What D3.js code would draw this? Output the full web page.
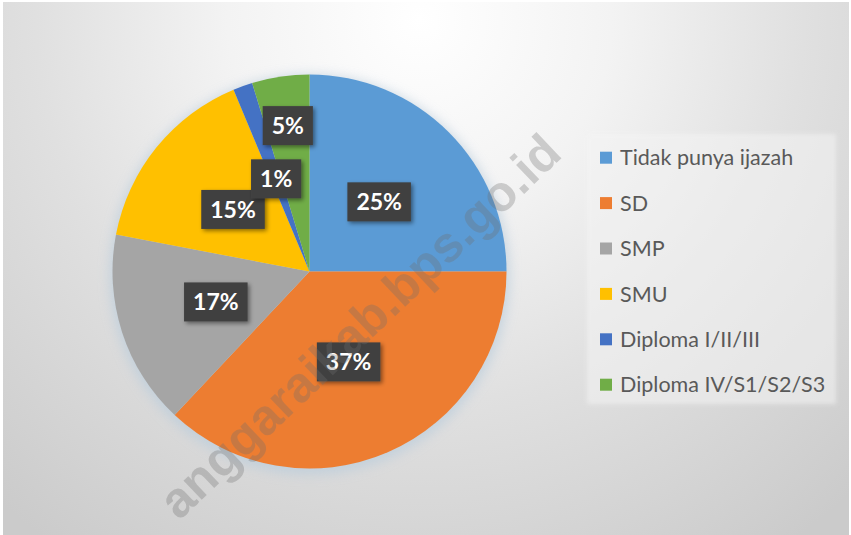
<!DOCTYPE html>
<html>
<head>
<meta charset="utf-8">
<script src="https://cdn.jsdelivr.net/npm/d3@7"></script>
<style>
  html, body { margin: 0; padding: 0; background: #ffffff; }
  svg { display: block; }
</style>
</head>
<body>
<div id="chart"></div>
<script>
// ---- data ----
const categories = ["Tidak punya ijazah", "SD", "SMP", "SMU", "Diploma I/II/III", "Diploma IV/S1/S2/S3"];
const values = [25.0, 37.0, 16.0, 15.7, 1.6, 4.7];
const labels = ["25%", "37%", "17%", "15%", "1%", "5%"];
const colors = ["#5B9BD5", "#ED7D31", "#A5A5A5", "#FFC000", "#4472C4", "#70AD47"];
const watermark = "anggaraikab.bps.go.id";

// ---- layout ----
const W = 851, H = 535;
const cx = 309.5, cy = 271.5, R = 197;

const svg = d3.select("#chart").append("svg")
  .attr("width", W).attr("height", H);

const defs = svg.append("defs");
const bg = defs.append("radialGradient").attr("id", "bg")
  .attr("gradientUnits", "userSpaceOnUse")
  .attr("cx", 420).attr("cy", 20).attr("r", 640);
[[0, "#ffffff"], [0.3, "#f3f3f3"], [0.6, "#e0e0e0"], [1, "#cbcbcb"]].forEach(s =>
  bg.append("stop").attr("offset", s[0]).attr("stop-color", s[1]));

const glow = defs.append("filter").attr("id", "glow")
  .attr("x", "-20%").attr("y", "-20%").attr("width", "140%").attr("height", "140%");
glow.append("feGaussianBlur").attr("stdDeviation", 6);

const shadow = defs.append("filter").attr("id", "shadow")
  .attr("x", "-30%").attr("y", "-30%").attr("width", "160%").attr("height", "160%");
shadow.append("feDropShadow").attr("dx", 2).attr("dy", 2).attr("stdDeviation", 2)
  .attr("flood-color", "#000").attr("flood-opacity", 0.45);

const legGlow = defs.append("filter").attr("id", "legGlow")
  .attr("x", "-10%").attr("y", "-10%").attr("width", "120%").attr("height", "120%");
legGlow.append("feGaussianBlur").attr("stdDeviation", 2);

// background panel
svg.append("rect").attr("x", 3).attr("y", 2).attr("width", W - 5).attr("height", H - 2)
  .attr("fill", "url(#bg)");

// pie glow
svg.append("circle").attr("cx", cx).attr("cy", cy + 3).attr("r", R + 3)
  .attr("fill", "#b9ccdc").attr("opacity", 0.7).attr("filter", "url(#glow)");

const pie = d3.pie().sort(null).value(d => d)(values);
const arc = d3.arc().innerRadius(0).outerRadius(R);

const g = svg.append("g").attr("transform", `translate(${cx},${cy})`);
g.selectAll("path.slice").data(pie).join("path")
  .attr("class", "slice")
  .attr("d", arc)
  .attr("fill", (d, i) => colors[i]);

// labels
const fontLab = "Lato, 'Open Sans', sans-serif";
const lg = g.append("g");
const boxes = [];
pie.forEach((d, i) => {
  const lab = lg.append("g");
  const t = lab.append("text").text(labels[i])
    .attr("font-family", fontLab).attr("font-weight", 700).attr("font-size", 23)
    .attr("fill", "#ffffff").attr("text-anchor", "middle").attr("dy", "0.36em");
  const tw = t.node().getComputedTextLength();
  const bw = tw + 18, bh = 39;
  const mid = (d.startAngle + d.endAngle) / 2;
  let rr = R * 0.5;
  let x = Math.sin(mid) * rr, y = -Math.cos(mid) * rr;
  const conflict = (x, y) => boxes.some(b =>
    Math.abs(b.x - x) < (b.w + bw) / 2 - 12 && Math.abs(b.y - y) < (b.h + bh) / 2 - 12);
  const clear = (x, y) => boxes.every(b =>
    Math.abs(b.x - x) >= (b.w + bw) / 2 + 2 || Math.abs(b.y - y) >= (b.h + bh) / 2 + 14);
  if (conflict(x, y)) {
    while (!clear(x, y) && rr < R * 0.9) {
      rr += 1;
      x = Math.sin(mid) * rr; y = -Math.cos(mid) * rr;
    }
  }
  boxes.push({x, y, w: bw, h: bh});
  lab.attr("transform", `translate(${x},${y})`);
  lab.insert("rect", "text")
    .attr("x", -bw / 2).attr("y", -bh / 2).attr("width", bw).attr("height", bh)
    .attr("fill", "#404040").attr("filter", "url(#shadow)");
});

// legend
const legX = 600, legY0 = 157.7, legStep = 45.4;
svg.append("rect").attr("x", 587).attr("y", 134).attr("width", 249).attr("height", 270)
  .attr("fill", "#f4f4f4").attr("opacity", 0.55).attr("filter", "url(#legGlow)");
const leg = svg.append("g");
categories.forEach((c, i) => {
  const row = leg.append("g").attr("transform", `translate(${legX},${legY0 + i * legStep})`);
  row.append("rect").attr("x", 0).attr("y", -6).attr("width", 12).attr("height", 12)
    .attr("fill", colors[i]);
  row.append("text").text(c).attr("x", 20).attr("dy", "0.36em")
    .attr("font-family", fontLab).attr("font-size", 21.5).attr("fill", "#595959");
});

// watermark
svg.append("text").text(watermark)
  .attr("transform", "translate(564,156) rotate(-43.5)")
  .attr("text-anchor", "end")
  .attr("font-family", "'Liberation Sans', Arial, sans-serif")
  .attr("font-weight", 700).attr("font-size", 50)
  .attr("fill", "#6f6f6f").attr("opacity", 0.3);
</script>
</body>
</html>
